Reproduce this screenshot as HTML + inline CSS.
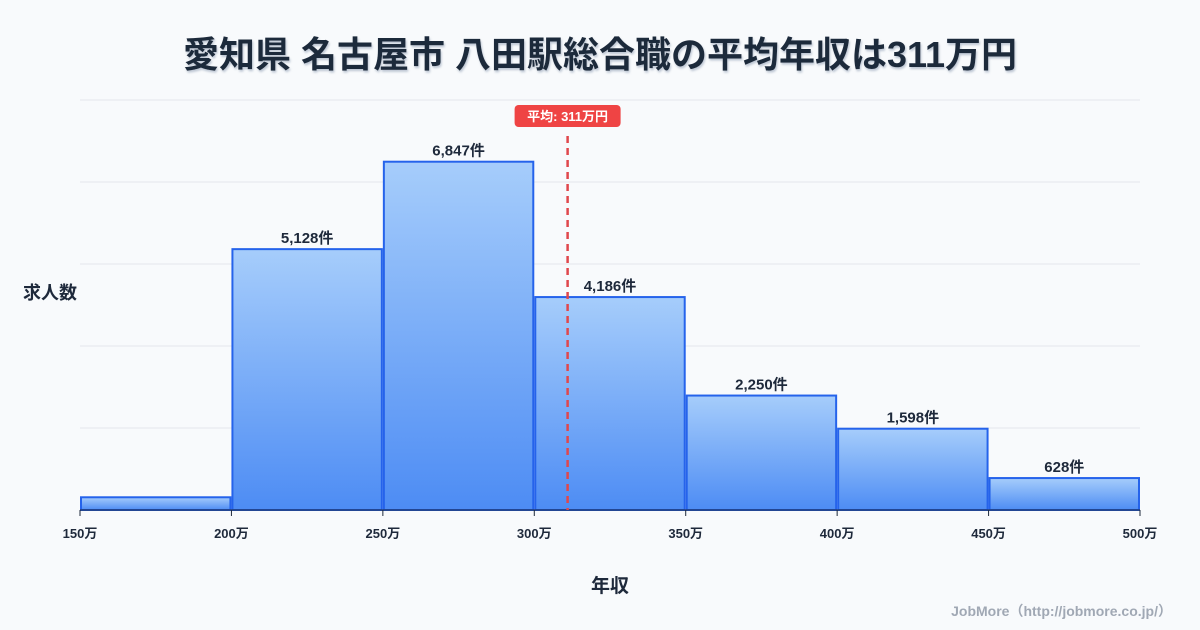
<!DOCTYPE html>
<html><head><meta charset="utf-8"><style>
body{margin:0;background:#f8fafc;}
svg{display:block;font-family:"Liberation Sans","Noto Sans CJK JP",sans-serif;}
</style></head><body>
<svg width="1200" height="630" viewBox="0 0 1200 630">
<defs>
<linearGradient id="bg" x1="0" y1="0" x2="0" y2="1"><stop offset="0" stop-color="#a6cdfb"/><stop offset="1" stop-color="#4d8cf4"/></linearGradient>
<filter id="sh"><feDropShadow dx="1" dy="2" stdDeviation="1" flood-color="#94a3b8" flood-opacity="0.6"/></filter>
</defs>
<text x="600" y="67" text-anchor="middle" font-size="36" font-weight="bold" fill="#1e293b" filter="url(#sh)">愛知県 名古屋市 八田駅総合職の平均年収は311万円</text>
<g id="grid"></g>
<g id="bars"></g>
<g id="xaxis"></g>
<text x="50" y="299" text-anchor="middle" font-size="18" font-weight="bold" fill="#1e293b">求人数</text>
<text x="610" y="592" text-anchor="middle" font-size="19" font-weight="bold" fill="#1e293b">年収</text>
<text x="1172" y="616" text-anchor="end" font-size="14" font-weight="bold" fill="#a0a8b4">JobMore（http://jobmore.co.jp/）</text>
<g id="mean"></g>
</svg>
<script>
const binStarts=[150,200,250,300,350,400,450];
const counts=[250,5128,6847,4186,2250,1598,628];
const labels=["","5,128件","6,847件","4,186件","2,250件","1,598件","628件"];
const xTicks=[150,200,250,300,350,400,450,500];
const meanValue=311;
const binWidth=50;
const NS="http://www.w3.org/2000/svg";
const X0=80,X1=1140,Y0=510,Y1=100,YMAX=8060;
const xs=v=>X0+(v-150)/(500-150)*(X1-X0);
const ys=v=>Y0-v/YMAX*(Y0-Y1);
function mk(tag,attrs,parent){const e=document.createElementNS(NS,tag);for(const k in attrs)e.setAttribute(k,attrs[k]);parent.appendChild(e);return e;}
const grid=document.getElementById('grid');
for(let i=0;i<=5;i++){const y=Y1+i*(Y0-Y1)/5;const l=mk('line',{x1:X0,x2:X1,y1:y,y2:y,stroke:'#e5e7eb','stroke-width':1},grid);

}
const bars=document.getElementById('bars');
binStarts.forEach((s,i)=>{const x=xs(s)+1,w=xs(s+binWidth)-xs(s)-2,y=ys(counts[i]);
const r=mk('rect',{x:x,y:y,width:w,height:Y0-y,fill:'url(#bg)',stroke:'#2563eb','stroke-width':2},bars);


if(labels[i]){const t=mk('text',{x:x+w/2,y:y-6,'text-anchor':'middle','font-size':15,'font-weight':'bold',fill:'#1e293b'},bars);t.textContent=labels[i];

}});
const xa=document.getElementById('xaxis');
const ax=mk('line',{x1:X0,x2:X1,y1:Y0,y2:Y0,stroke:'#1e293b','stroke-width':1},xa);


xTicks.forEach(v=>{const x=xs(v);mk('line',{x1:x,x2:x,y1:Y0,y2:Y0+6,stroke:'#1e293b'},xa);
const t=mk('text',{x:x,y:Y0+28,'text-anchor':'middle','font-size':13,'font-weight':'bold',fill:'#1e293b'},xa);t.textContent=v+'万';

});
const mg=document.getElementById('mean');const mx=xs(meanValue);
const ml=mk('line',{x1:mx,x2:mx,y1:136,y2:Y0,stroke:'#e0474c','stroke-width':2.5,'stroke-dasharray':'7,5'},mg);


const mb=mk('rect',{x:mx-53,y:105,width:106,height:22,rx:4,fill:'#ef4444'},mg);


const mt=mk('text',{x:mx,y:121,'text-anchor':'middle','font-size':13,'font-weight':'bold',fill:'#fff'},mg);mt.textContent='平均: '+meanValue+'万円';


</script>
</body></html>
